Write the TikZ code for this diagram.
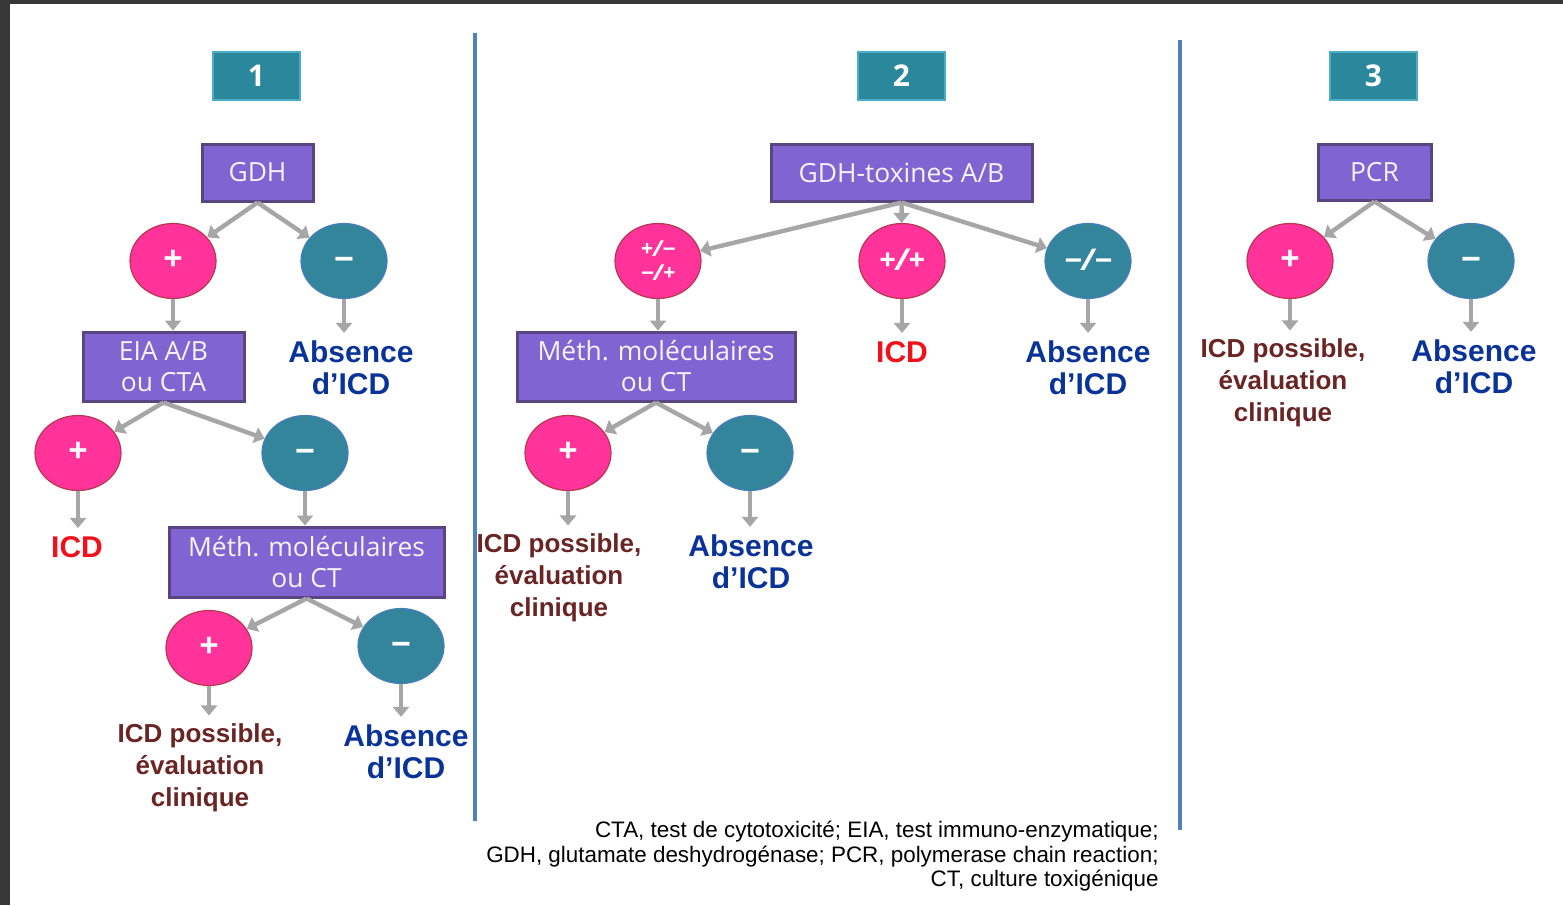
\documentclass[tikz,border=0pt]{standalone}
\usepackage{fontspec}
\setmainfont{Open Sans}
\newfontfamily\lblfont{Liberation Sans}
\usetikzlibrary{positioning,shapes.geometric,arrows.meta}

\definecolor{boxpurple}{HTML}{8064D2}
\definecolor{boxedge}{HTML}{5A4482}
\definecolor{numteal}{HTML}{2B879C}
\definecolor{numedge}{HTML}{4BACC6}
\definecolor{pospink}{HTML}{FF3399}
\definecolor{posedge}{HTML}{B8364E}
\definecolor{negteal}{HTML}{32859B}
\definecolor{negedge}{HTML}{4A7EBB}
\definecolor{arrowgray}{HTML}{A6A6A6}
\definecolor{divblue}{HTML}{4F81BD}
\definecolor{icdred}{HTML}{F2101A}
\definecolor{possbrown}{HTML}{6B2424}
\definecolor{absblue}{HTML}{0A3399}
\definecolor{framegray}{HTML}{383838}

\newcommand{\mns}{{\lblfont −}}

\begin{document}
\begin{tikzpicture}[
    x=0.5pt, y=-0.5pt,
    num/.style={rectangle, draw=numedge, line width=1pt, fill=numteal, text=white, font=\bfseries\fontsize{15}{18}\selectfont, minimum width=43.5pt, minimum height=24pt, inner sep=0pt},
    test/.style={rectangle, draw=boxedge, line width=1.5pt, fill=boxpurple, text=white!92!boxpurple, font=\fontsize{13.2}{15.5}\selectfont, align=center, inner sep=0pt},
    pinkcirc/.style={ellipse, draw=posedge, line width=0.6pt, fill=pospink, text=white, minimum width=43pt, minimum height=37.5pt, inner sep=0pt, font=\bfseries\fontsize{17}{17}\selectfont},
    sign/.style={text height=9.5pt, text depth=0pt},
    posres/.style={pinkcirc, sign},
    negres/.style={posres, draw=negedge, fill=negteal},
    pair/.style={font=\bfseries\itshape\fontsize{15}{15}\selectfont},
    icd/.style={font=\lblfont\bfseries\fontsize{15}{15.75}\selectfont, text=icdred, inner sep=0pt},
    absent/.style={icd, text=absblue, align=center},
    poss/.style={icd, font=\lblfont\bfseries\fontsize{13}{16}\selectfont, text=possbrown, align=center},
    note/.style={font=\lblfont\fontsize{11.2}{12.25}\selectfont, align=right, inner sep=0pt},
    arrow/.style={-{Triangle[length=5pt,width=8pt]}, arrowgray, line width=2.2pt},
    lblarrow/.style={arrow, shorten >=4pt},
    divider/.style={divblue, line width=2pt}
]
\useasboundingbox (0,0) rectangle (1563,905);

% Frame and panel dividers
\fill[framegray] (0,0) rectangle (1563,4);
\fill[framegray] (0,0) rectangle (10,905);
\draw[divider] (475,33) -- (475,821);
\draw[divider] (1180,40) -- (1180,830);

% Panel 1
\node[num] (num1) at (256.5,76) {1};
\node[test, minimum width=55.5pt, minimum height=28.5pt] (gdh) at (257.5,172.5) {GDH};
\node[posres] (gdhpos) at (173,261) {+};
\node[negres] (gdhneg) at (344,261) {\mns};
\node[test, minimum width=80.5pt, minimum height=34.5pt] (eia) at (163.5,366.5) {EIA A/B\\ou CTA};
\node[absent] (abs1) at (351,368) {Absence\\d’ICD};
\node[posres] (eiapos) at (78,453) {+};
\node[negres] (eianeg) at (305,453) {\mns};
\node[icd] (icd1) at (77,547) {ICD};
\node[test, minimum width=137.5pt, minimum height=35pt] (meth1) at (306.5,562) {Méth. moléculaires\\ou CT};
\node[posres] (methpos1) at (209,648) {+};
\node[negres] (methneg1) at (401,646) {\mns};
\node[poss] (poss1) at (200,768) {ICD possible,\\évaluation\\clinique};
\node[absent] (abs2) at (406,752) {Absence\\d’ICD};

\draw[arrow] (gdh.south) -- (gdhpos);
\draw[arrow] (gdh.south) -- (gdhneg);
\draw[arrow] (gdhpos.south) -- (gdhpos.south |- eia.north);
\draw[lblarrow] (gdhneg.south) -- (gdhneg.south |- abs1.north);
\draw[arrow] (eia.south) -- (eiapos);
\draw[arrow] (eia.south) -- (eianeg);
\draw[lblarrow] (eiapos.south) -- (eiapos.south |- icd1.north);
\draw[arrow] (eianeg.south) -- (eianeg.south |- meth1.north);
\draw[arrow] (meth1.south) -- (methpos1);
\draw[arrow] (meth1.south) -- (methneg1);
\draw[lblarrow] (methpos1.south) -- (methpos1.south |- poss1.north);
\draw[lblarrow] (methneg1.south) -- (methneg1.south |- abs2.north);

% Panel 2
\node[num] (num2) at (901.5,76) {2};
\node[test, minimum width=130.5pt, minimum height=28.5pt] (gdhtox) at (901.5,172.5) {GDH-toxines A/B};
\node[pinkcirc, font=\bfseries\itshape\fontsize{11}{12}\selectfont, align=center] (mixed) at (658,261) {+/\mns\\\mns/+};
\node[posres, pair] (dual) at (902,261) {+/+};
\node[negres, pair] (none) at (1088,261) {\mns/\mns};
\node[test, minimum width=139pt, minimum height=34.5pt] (meth2) at (656,366.5) {Méth. moléculaires\\ou CT};
\node[icd] (icd2) at (902,352) {ICD};
\node[absent] (abs3) at (1088,368) {Absence\\d’ICD};
\node[posres] (methpos2) at (568,453) {+};
\node[negres] (methneg2) at (750,453) {\mns};
\node[poss] (poss2) at (559,578) {ICD possible,\\évaluation\\clinique};
\node[absent] (abs4) at (751,562) {Absence\\d’ICD};

\draw[arrow] (gdhtox.south) -- (mixed);
\draw[arrow] (gdhtox.south) -- (dual);
\draw[arrow] (gdhtox.south) -- (none);
\draw[arrow] (mixed.south) -- (mixed.south |- meth2.north);
\draw[lblarrow] (dual.south) -- (dual.south |- icd2.north);
\draw[lblarrow] (none.south) -- (none.south |- abs3.north);
\draw[arrow] (meth2.south) -- (methpos2);
\draw[arrow] (meth2.south) -- (methneg2);
\draw[lblarrow] (methpos2.south) -- (methpos2.south |- poss2.north);
\draw[lblarrow] (methneg2.south) -- (methneg2.south |- abs4.north);

% Panel 3
\node[num] (num3) at (1373.5,76) {3};
\node[test, minimum width=56.5pt, minimum height=28pt] (pcr) at (1374.5,172) {PCR};
\node[posres] (pcrpos) at (1290,261) {+};
\node[negres] (pcrneg) at (1471,261) {\mns};
\node[poss] (poss3) at (1283,383) {ICD possible,\\évaluation\\clinique};
\node[absent] (abs5) at (1474,367) {Absence\\d’ICD};

\draw[arrow] (pcr.south) -- (pcrpos);
\draw[arrow] (pcr.south) -- (pcrneg);
\draw[lblarrow] (pcrpos.south) -- (pcrpos.south |- poss3.north);
\draw[lblarrow] (pcrneg.south) -- (pcrneg.south |- abs5.north);

% Abbreviations
\node[note, anchor=north east] (legend) at (1159,821) {CTA, test de cytotoxicité; EIA, test immuno-enzymatique;\\GDH, glutamate deshydrogénase; PCR, polymerase chain reaction;\\CT, culture toxigénique};

\end{tikzpicture}
\end{document}
